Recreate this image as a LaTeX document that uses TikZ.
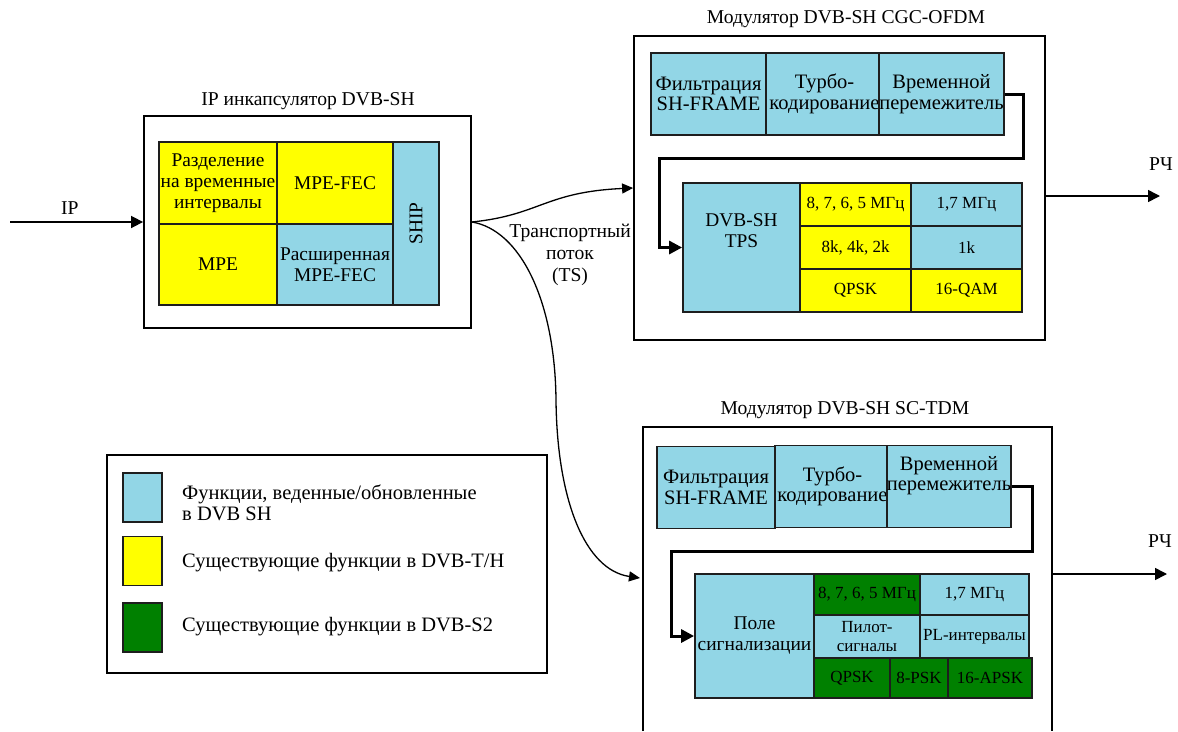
\documentclass[tikz,border=0pt]{standalone}
\usepackage{fontspec}
\setmainfont{Liberation Serif}
\usetikzlibrary{arrows.meta}
\definecolor{cb}{RGB}{146,214,230}
\definecolor{yl}{RGB}{255,255,0}
\definecolor{gr}{RGB}{0,128,0}
\definecolor{ln}{RGB}{30,30,30}
\tikzset{
  txt/.style={font=\fontsize{19.6}{22}\selectfont, align=center, inner sep=0pt},
  cell/.style={draw=ln, line width=1.8pt, inner sep=0pt, align=center, font=\fontsize{20.5}{20.5}\selectfont},
  enccell/.style={font=\fontsize{19.4}{21}\selectfont},
  grid/.style={font=\fontsize{17}{19}\selectfont},
  blue/.style={cell, fill=cb},
  yel/.style={cell, fill=yl},
  grn/.style={cell, fill=gr},
  outer/.style={draw=black, line width=1.8pt, inner sep=0pt},
  route/.style={draw=black, line width=3pt, -{Triangle[length=13pt,width=13pt]}},
  arr/.style={draw=black, line width=1.6pt, -{Triangle[length=12pt,width=12pt]}},
  curv/.style={draw=black, line width=1.3pt, -{Triangle[length=11pt,width=10pt]}},
  swatch/.style={draw=ln, line width=1.5pt, minimum width=39pt, minimum height=49pt, inner sep=0pt},
  legtxt/.style={font=\fontsize{20.5}{20.5}\selectfont, align=left, inner sep=0pt, anchor=west},
}
\begin{document}
\begin{tikzpicture}[x=1pt,y=-1pt]
\useasboundingbox (0,0) rectangle (1178,731);
\fill[white] (0,0) rectangle (1178,731);

% ---------- IP encapsulator ----------
\node[outer, minimum width=327pt, minimum height=212pt] (enc) at (307.5,222) {};
\node[txt] (enctitle) at (308,101) {IP инкапсулятор DVB-SH};
\node[yel, enccell, minimum width=118pt, minimum height=82pt] (razd) at (218,183) {Разделение\\на временные\\интервалы};
\node[yel, enccell, minimum width=116pt, minimum height=82pt] (mpefec) at (335,183) {MPE-FEC};
\node[yel, enccell, minimum width=118pt, minimum height=81pt] (mpe) at (218,264.5) {MPE};
\node[blue, enccell, minimum width=116pt, minimum height=81pt] (rmpe) at (335,264.5) {Расширенная\\MPE-FEC};
\node[blue, enccell, rotate=90, minimum width=163pt, minimum height=46pt] (ship) at (416,223.5) {SHIP};

\coordinate (ipstart) at (10,222);
\draw[arr] (ipstart) -- (enc.west) node[pos=0.45, above=7pt, txt] (iplbl) {IP};

% ---------- DVB-SH CGC-OFDM modulator ----------
\node[outer, minimum width=411pt, minimum height=304pt] (ofdm) at (839.5,188) {};
\node[txt] (ofdmtitle) at (846,19) {Модулятор DVB-SH CGC-OFDM};
\node[blue, minimum width=115pt, minimum height=82pt] (of1) at (708.5,94) {Фильтрация\\SH-FRAME};
\node[blue, minimum width=117pt, minimum height=82pt] (of2) at (824.5,94) {Турбо-\\кодирование};
\node[blue, minimum width=117pt, minimum height=82pt] (of3) at (941.5,94) {Временной\\перемежитель};
\node[blue, enccell, minimum width=117pt, minimum height=129pt] (tps) at (741.5,247.5) {DVB-SH\\TPS\\[12pt]};
\node[yel, grid, minimum width=111pt, minimum height=43pt] (oc11) at (855.5,204.5) {8, 7, 6, 5 МГц};
\node[blue, grid, minimum width=111pt, minimum height=43pt] (oc12) at (966.5,204.5) {1,7 МГц};
\node[yel, grid, minimum width=111pt, minimum height=43pt] (oc21) at (855.5,247.5) {8k, 4k, 2k};
\node[blue, grid, minimum width=111pt, minimum height=43pt] (oc22) at (966.5,247.5) {1k};
\node[yel, grid, minimum width=111pt, minimum height=43pt] (oc31) at (855.5,290.5) {QPSK};
\node[yel, grid, minimum width=111pt, minimum height=43pt] (oc32) at (966.5,290.5) {16-QAM};
\coordinate (ora) at (1023,94);
\coordinate (orb) at (659,158);
\draw[route] (of3.east) -- (ora) |- (orb) |- (tps.west);

\coordinate (ofdmrf) at (1160,196);
\draw[arr] (ofdm.east |- ofdmrf) -- (ofdmrf);
\node[txt] (rf1) at (1161,164) {РЧ};

% ---------- DVB-SH SC-TDM modulator ----------
\coordinate (tdmbl) at (643,731);
\coordinate (tdmtr) at (1052,427);
\draw[line width=1.8pt] (tdmbl) |- (tdmtr) -- (tdmtr |- tdmbl);
\node[txt] (tdmtitle) at (845,410) {Модулятор DVB-SH SC-TDM};
\node[blue, minimum width=118pt, minimum height=82pt] (tf1) at (716,487.5) {Фильтрация\\SH-FRAME};
\node[blue, minimum width=115pt, minimum height=82pt] (tf2) at (832.5,486.5) {Турбо-\\кодирование};
\node[blue, minimum width=118pt, minimum height=82pt] (tf3) at (949,486.5) {Временной\\перемежитель\\[6pt]};
\node[blue, enccell, minimum width=119pt, minimum height=124pt] (pole) at (754.5,636) {Поле\\сигнализации};
\node[grn, grid, minimum width=106pt, minimum height=41pt] (tc11) at (867,594.5) {8, 7, 6, 5 МГц};
\node[blue, grid, minimum width=109pt, minimum height=41pt] (tc12) at (974.5,594.5) {1,7 МГц};
\node[blue, grid, minimum width=106pt, minimum height=43pt] (tc21) at (867,636.5) {Пилот-\\сигналы};
\node[blue, grid, minimum width=109pt, minimum height=43pt] (tc22) at (974.5,636.5) {PL-интервалы};
\node[grn, grid, minimum width=76pt, minimum height=40pt] (tc31) at (852,678) {QPSK};
\node[grn, grid, minimum width=58pt, minimum height=40pt] (tc32) at (919,678) {8-PSK};
\node[grn, grid, minimum width=84pt, minimum height=40pt] (tc33) at (990,678) {16-APSK};
\coordinate (tra) at (1032,486.5);
\coordinate (trb) at (671,551);
\draw[route] (tf3.east) -- (tra) |- (trb) |- (pole.west);

\coordinate (tdmrfs) at (1052,574);
\coordinate (tdmrf) at (1167,574);
\draw[arr] (tdmrfs) -- (tdmrf);
\node[txt] (rf2) at (1160,541) {РЧ};

% ---------- transport stream ----------
\coordinate (tdmin) at (640,578);
\draw[curv] (enc.east) .. controls (540,215) and (545,192) .. (ofdm.west);
\draw[curv] (enc.east) .. controls (520,230) and (555,300) .. (556,400) .. controls (557,500) and (585,570) .. (tdmin);
\node[txt] (ts) at (570,255) {Транспортный\\поток\\(TS)};

% ---------- legend ----------
\node[outer, minimum width=440pt, minimum height=218pt] (leg) at (327,564) {};
\node[swatch, fill=cb] (sw1) at (142.5,497.5) {};
\node[swatch, fill=yl] (sw2) at (142.5,561) {};
\node[swatch, fill=gr] (sw3) at (142.5,627.5) {};
\node[legtxt] (lt1) at (182,503) {Функции, веденные/обновленные\\в DVB SH};
\node[legtxt] (lt2) at (182,563) {Существующие функции в DVB-T/H};
\node[legtxt] (lt3) at (182,627) {Существующие функции в DVB-S2};
\end{tikzpicture}
\end{document}
